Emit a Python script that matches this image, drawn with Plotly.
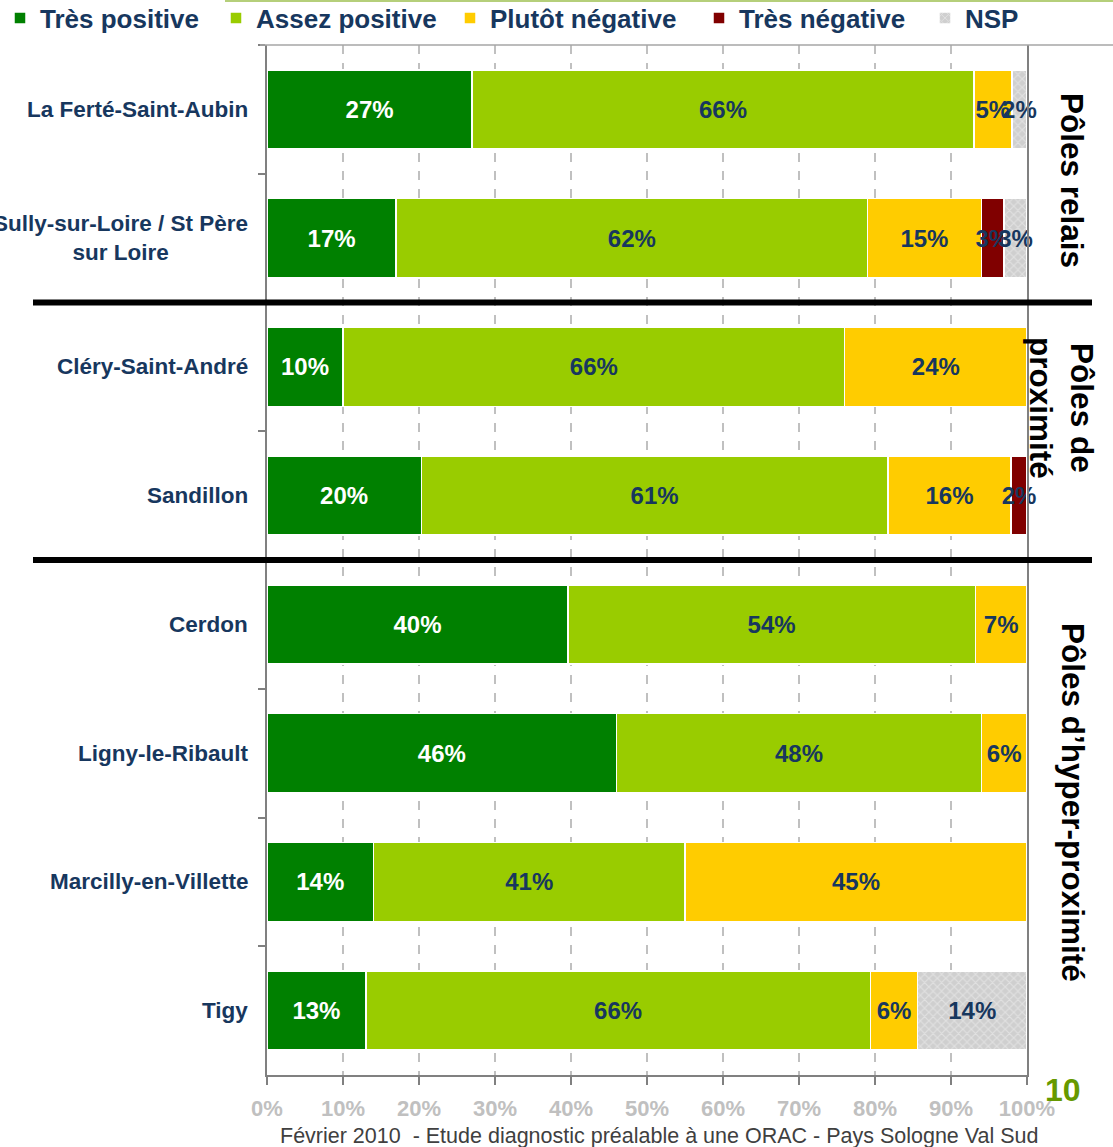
import plotly.graph_objects as go

# Communes (top to bottom) and their share of answers per opinion
communes = [
    "La Ferté-Saint-Aubin",
    "Sully-sur-Loire / St Père<br>sur Loire",
    "Cléry-Saint-André",
    "Sandillon",
    "Cerdon",
    "Ligny-le-Ribault",
    "Marcilly-en-Villette",
    "Tigy",
]
tres_positive = [27, 17, 10, 20.3, 39.6, 46, 14, 13]
assez_positive = [66, 62, 66, 61.4, 53.6, 48, 41, 66.4]
plutot_negative = [5, 15, 24, 16.2, 6.8, 6, 45, 6.2]
tres_negative = [0, 3, 0, 2.1, 0, 0, 0, 0]
nsp = [2, 3, 0, 0, 0, 0, 0, 14.4]

x_ticks = [0, 10, 20, 30, 40, 50, 60, 70, 80, 90, 100]
x_tick_labels = [f"{v}%" for v in x_ticks]

groups = ["Pôles relais", "Pôles de<br>proximité", "Pôles d’hyper-proximité"]
footer = "Février 2010  - Etude diagnostic préalable à une ORAC - Pays Sologne Val Sud"
page_number = "10"

NAVY = "#17375E"
FONT = "Liberation Sans, Arial, sans-serif"

# Plot area in pixels, used to place items given in pixel terms
L, R, T, B = 267, 1027, 45, 1075
W, H = R - L, B - T


def px_x(p):
    return (p - L) / W


def px_y(p):
    return (B - p) / H


series = [
    ("Très positive", tres_positive, "#008000", "white", None),
    ("Assez positive", assez_positive, "#99CC00", NAVY, None),
    ("Plutôt négative", plutot_negative, "#FFCC00", NAVY, None),
    ("Très négative", tres_negative, "#800000", NAVY, None),
    ("NSP", nsp, "#D4D4D4", NAVY, dict(shape="x", fgcolor="#F2F2F2", bgcolor="#CFCFCF",
                                       size=6, solidity=0.35)),
]
# each legend entry sits in its own legend box, left edges in pixels
legend_left = [0, 216, 450, 699, 925]

fig = go.Figure()
legend_layout = {}
for i, (name, vals, color, txtcolor, pattern) in enumerate(series):
    labels = [f"{v:.0f}%" if v > 0 else "" for v in vals]
    marker = dict(color=color, line=dict(color="white", width=1.5))
    if pattern:
        marker["pattern"] = pattern
    lg = "legend" if i == 0 else f"legend{i + 1}"
    fig.add_trace(go.Bar(
        name=name, y=communes, x=vals, orientation="h",
        marker=marker, text=labels, textposition="inside",
        insidetextanchor="middle", textangle=0, cliponaxis=False,
        textfont=dict(family=FONT, size=24, color=txtcolor, weight="bold"),
        hoverinfo="skip", legend=lg,
    ))
    legend_layout[lg] = dict(
        orientation="h", x=px_x(legend_left[i]), xanchor="left",
        y=px_y(18), yanchor="middle",
        font=dict(family=FONT, size=26, color=NAVY, weight="bold"),
        itemclick=False, bgcolor="rgba(0,0,0,0)",
    )

fig.update_layout(
    barmode="stack",
    bargap=0.385,
    width=1113, height=1147,
    margin=dict(l=L, r=1113 - R, t=T, b=1147 - B, autoexpand=False),
    paper_bgcolor="white", plot_bgcolor="white",
    uniformtext=dict(mode="show", minsize=24),
    font=dict(family=FONT),
    showlegend=True,
    **legend_layout,
)

fig.update_xaxes(
    range=[0, 100.0001], tickvals=x_ticks, ticktext=x_tick_labels,
    showgrid=True, gridcolor="#C0C0C0", gridwidth=2, griddash="dash",
    showline=True, linecolor="#808080", linewidth=2,
    ticks="outside", ticklen=8, tickcolor="#808080", tickwidth=2,
    ticklabelstandoff=5,
    tickfont=dict(family=FONT, size=22, color="#C0C0C0", weight="bold"),
    zeroline=False, fixedrange=True,
)
fig.update_yaxes(
    categoryorder="array", categoryarray=communes, autorange="reversed",
    showticklabels=False, tickson="boundaries",
    ticks="outside", ticklen=7, tickcolor="#808080", tickwidth=2,
    showline=True, linecolor="#808080", linewidth=2, mirror=True,
    showgrid=False, zeroline=False, fixedrange=True,
)

# Commune labels left of the bars, centred when wrapped
for c in communes:
    fig.add_annotation(
        x=px_x(250), xref="paper", y=c, yref="y", xanchor="right", yanchor="middle",
        text=c, showarrow=False, align="center",
        font=dict(family=FONT, size=22.5, color=NAVY, weight="bold"),
    )

# Heavy separators between the groups of communes
for yb in (1.5, 3.5):
    fig.add_shape(type="line", xref="paper", yref="y",
                  x0=px_x(33), x1=px_x(1092), y0=yb, y1=yb,
                  line=dict(color="black", width=6))

# Rotated group titles on the right
group_pos = [(1072, 180), (1062, 408), (1073, 802)]
for g, (gx, gy) in zip(groups, group_pos):
    fig.add_annotation(
        x=px_x(gx), y=px_y(gy), xref="paper", yref="paper", text=g, showarrow=False,
        textangle=90, align="center", xanchor="center", yanchor="middle",
        font=dict(family=FONT, size=31.5, color="black", weight="bold"),
    )

# Slide decorations: top rules, page number and footer
fig.add_shape(type="line", xref="paper", yref="paper",
              x0=px_x(225), x1=px_x(1113), y0=px_y(1), y1=px_y(1),
              line=dict(color="#B5CF7A", width=2))
fig.add_shape(type="line", xref="paper", yref="paper",
              x0=px_x(260), x1=px_x(1113), y0=1, y1=1,
              line=dict(color="#A6A6A6", width=1.5))
fig.add_annotation(
    x=px_x(1063), y=px_y(1090), xref="paper", yref="paper", text=page_number,
    showarrow=False, xanchor="center", yanchor="middle",
    font=dict(family=FONT, size=32, color="#669900", weight="bold"),
)
fig.add_annotation(
    x=px_x(659), y=px_y(1136), xref="paper", yref="paper", text=footer,
    showarrow=False, xanchor="center", yanchor="middle",
    font=dict(family=FONT, size=21.5, color="#404040"),
)

fig.write_html("out.html")
